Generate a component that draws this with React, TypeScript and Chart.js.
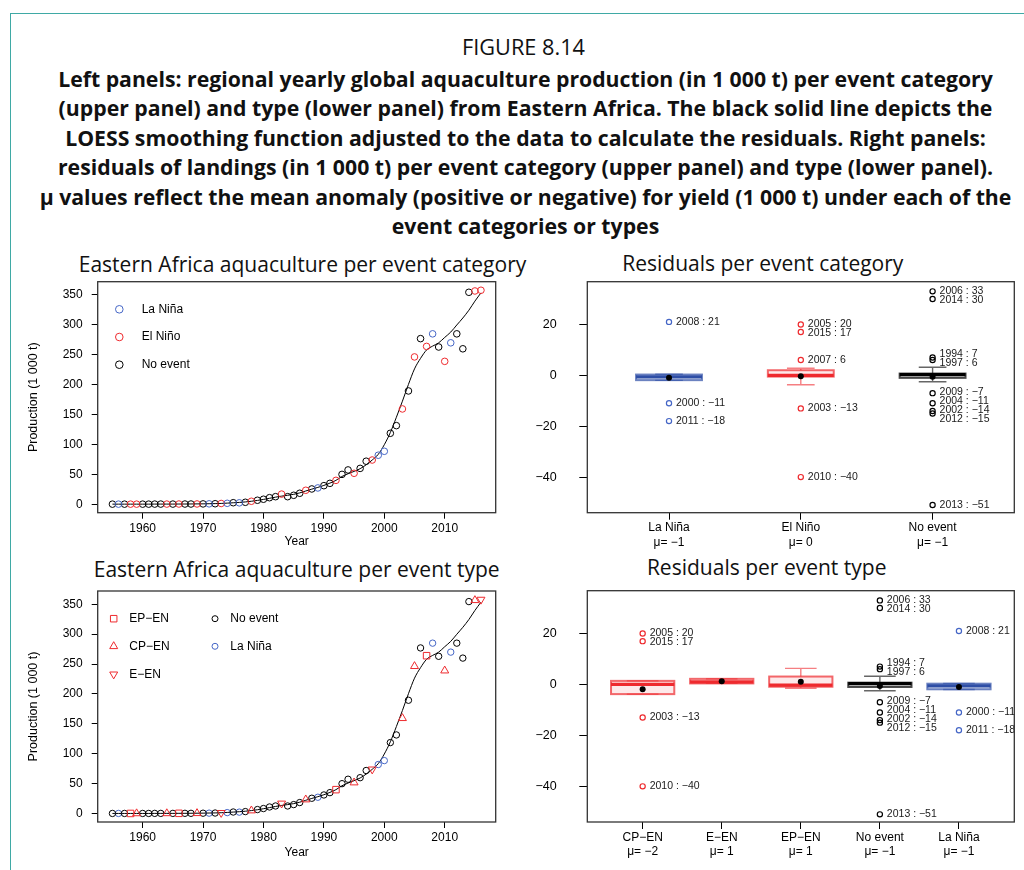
import React, { useEffect, useRef } from 'react';
import { Chart, registerables } from 'chart.js';

Chart.register(...registerables);

// ---------------- DATA ----------------
const years = [
  1955, 1956, 1957, 1958, 1959, 1960, 1961, 1962, 1963, 1964,
  1965, 1966, 1967, 1968, 1969, 1970, 1971, 1972, 1973, 1974,
  1975, 1976, 1977, 1978, 1979, 1980, 1981, 1982, 1983, 1984,
  1985, 1986, 1987, 1988, 1989, 1990, 1991, 1992, 1993, 1994,
  1995, 1996, 1997, 1998, 1999, 2000, 2001, 2002, 2003, 2004,
  2005, 2006, 2007, 2008, 2009, 2010, 2011, 2012, 2013, 2014,
  2015, 2016,
];

// Production (1 000 t)
const production = [
  0.2, 0.2, 0.2, 0.2, 0.2, 0.2, 0.2, 0.3, 0.3, 0.3,
  0.3, 0.4, 0.4, 0.4, 0.5, 0.6, 0.7, 0.9, 1.3, 1.6,
  2.6, 2.4, 3.3, 5.0, 6.7, 8.4, 11.0, 12.7, 17.0, 12.7,
  15.0, 18.4, 23.4, 25.6, 27.3, 31.1, 35.0, 40.0, 50.0, 57.4,
  51.8, 60.0, 72.0, 74.0, 82.0, 88.6, 118.7, 131.5, 159.4, 189.5,
  246.4, 277.0, 264.0, 285.0, 263.0, 239.0, 270.0, 285.0, 260.0, 354.5,
  356.7, 357.9,
];

// LOESS fitted values
const loessFit = [
  0.2, 0.2, 0.2, 0.2, 0.2, 0.2, 0.2, 0.3, 0.3, 0.3,
  0.3, 0.4, 0.4, 0.5, 0.6, 0.7, 0.9, 1.1, 1.4, 1.9,
  2.5, 3.1, 3.9, 5.0, 6.4, 8.1, 10.0, 11.9, 13.6, 15.0,
  16.6, 19.0, 22.2, 25.3, 28.2, 31.5, 35.4, 40.0, 46.5, 51.0,
  55.0, 59.5, 66.0, 74.0, 83.5, 99.6, 120.0, 145.5, 172.4, 200.5,
  226.4, 244.0, 258.0, 264.5, 270.0, 279.0, 288.0, 299.8, 311.5, 324.5,
  339.7, 353.5,
];

// N = no event, L = La Niña, E = El Niño
const eventCategory = [
  'N', 'L', 'N', 'E', 'E', 'N', 'N', 'N', 'N', 'E',
  'N', 'E', 'N', 'N', 'E', 'N', 'L', 'N', 'E', 'L',
  'N', 'L', 'N', 'E', 'N', 'N', 'N', 'N', 'E', 'N',
  'N', 'N', 'E', 'N', 'L', 'N', 'N', 'E', 'N', 'N',
  'E', 'N', 'N', 'E', 'L', 'L', 'N', 'N', 'E', 'N',
  'E', 'N', 'E', 'L', 'N', 'E', 'L', 'N', 'N', 'N',
  'E', 'E',
];

// N = no event, L = La Niña, EP = EP-EN, CP = CP-EN, E = E-EN
const eventType = [
  'N', 'L', 'N', 'EP', 'CP', 'N', 'N', 'N', 'N', 'CP',
  'N', 'EP', 'N', 'N', 'CP', 'N', 'L', 'N', 'E', 'L',
  'N', 'L', 'N', 'CP', 'N', 'N', 'N', 'N', 'E', 'N',
  'N', 'N', 'CP', 'N', 'L', 'N', 'N', 'EP', 'N', 'N',
  'CP', 'N', 'N', 'E', 'L', 'L', 'N', 'N', 'CP', 'N',
  'CP', 'N', 'EP', 'L', 'N', 'CP', 'L', 'N', 'N', 'N',
  'CP', 'E',
];

const yearTicks = [1960, 1970, 1980, 1990, 2000, 2010];
const productionTicks = [0, 50, 100, 150, 200, 250, 300, 350];
const residualTicks = [-40, -20, 0, 20];
const residualMin = -54.0;
const residualMax = 36.8;

// Residuals per event category
const catNames = ['La Niña', 'El Niño', 'No event'];
const catMu = ['μ= −1', 'μ= 0', 'μ= −1'];
const catQ1 = [-1.9, -0.5, -1.0];
const catMedian = [-0.6, 0.0, 0.3];
const catQ3 = [0.3, 2.0, 0.7];
const catWhiskLow = [-2.0, -3.7, -2.5];
const catWhiskHigh = [0.4, 2.8, 3.2];
const catMean = [-1.0, -0.4, -0.6];
const catOutYears = [
  [2008, 2000, 2011],
  [2005, 2015, 2007, 2003, 2010],
  [2006, 2014, 1994, 1997, 2009, 2004, 2002, 2012, 2013],
];
const catOutValues = [
  [21, -11, -18],
  [20, 17, 6, -13, -40],
  [33, 30, 7, 6, -7, -11, -14, -15, -51],
];

// Residuals per event type
const typeNames = ['CP−EN', 'E−EN', 'EP−EN', 'No event', 'La Niña'];
const typeMu = ['μ= −2', 'μ= 1', 'μ= 1', 'μ= −1', 'μ= −1'];
const typeQ1 = [-3.8, 0.4, -0.9, -1.0, -1.9];
const typeMedian = [0.0, 1.0, -0.3, 0.3, -0.6];
const typeQ3 = [1.4, 2.2, 3.1, 0.7, 0.3];
const typeWhiskLow = [-3.8, 0.4, -1.5, -2.5, -2.0];
const typeWhiskHigh = [1.4, 2.2, 6.3, 3.2, 0.4];
const typeMean = [-1.9, 1.3, 1.1, -0.6, -1.0];
const typeOutYears = [
  [2005, 2015, 2003, 2010],
  [],
  [],
  [2006, 2014, 1994, 1997, 2009, 2004, 2002, 2012, 2013],
  [2008, 2000, 2011],
];
const typeOutValues = [
  [20, 17, -13, -40],
  [],
  [],
  [33, 30, 7, 6, -7, -11, -14, -15, -51],
  [21, -11, -18],
];

const captionLines = [
  'Left panels: regional yearly global aquaculture production (in 1 000 t) per event category',
  '(upper panel) and type (lower panel) from Eastern Africa. The black solid line depicts the',
  'LOESS smoothing function adjusted to the data to calculate the residuals. Right panels:',
  'residuals of landings (in 1 000 t) per event category (upper panel) and type (lower panel).',
  'μ values reflect the mean anomaly (positive or negative) for yield (1 000 t) under each of the',
  'event categories or types',
];

// ---------------- STYLE ----------------
const RED = '#EE2A2E';
const BLUE = '#4566C6';
const BLUE_BOX = '#2E4EA6';
const BLACK = '#000000';
const FONT_R = "'Liberation Sans', Arial, Helvetica, sans-serif";
const FONT_T = "'Open Sans', 'Noto Sans', sans-serif";

function withAlpha(hex: string, a: number) {
  const n = parseInt(hex.slice(1), 16);
  return `rgba(${(n >> 16) & 255},${(n >> 8) & 255},${n & 255},${a})`;
}

function measure(text: string, font: string) {
  const c = document.createElement('canvas').getContext('2d') as CanvasRenderingContext2D;
  c.font = font;
  return c.measureText(text).width;
}
function fitSize(text: string, weight: number, family: string, target: number) {
  return (100 * target) / measure(text, `${weight} 100px ${family}`);
}

function drawMarker(ctx: CanvasRenderingContext2D, style: string, x: number, y: number, r: number, color: string, rot: number) {
  ctx.save();
  ctx.strokeStyle = color;
  ctx.lineWidth = 1;
  ctx.beginPath();
  if (style === 'circle') {
    ctx.arc(x, y, r, 0, Math.PI * 2);
  } else if (style === 'rect') {
    const s = r * Math.SQRT1_2;
    ctx.rect(x - s, y - s, 2 * s, 2 * s);
  } else {
    const a0 = (rot * Math.PI) / 180;
    for (let k = 0; k < 3; k++) {
      const a = a0 + (k * 2 * Math.PI) / 3;
      const px = x + Math.sin(a) * r;
      const py = y - Math.cos(a) * r;
      if (k === 0) ctx.moveTo(px, py);
      else ctx.lineTo(px, py);
    }
    ctx.closePath();
  }
  ctx.stroke();
  ctx.restore();
}

const framePlugin = {
  id: 'rframe',
  afterDraw(chart: any) {
    const { ctx, chartArea: a } = chart;
    ctx.save();
    ctx.strokeStyle = '#333';
    ctx.lineWidth = 1.3;
    ctx.strokeRect(a.left, a.top, a.right - a.left, a.bottom - a.top);
    ctx.restore();
  },
};

type Group = { code: string; label: string; color: string; style: string; rot: number; r: number };
type Geo = { cl: number; ct: number; cw: number; ch: number; l: number; t: number; r: number; b: number };
type LegendItem = { g: number; mx: number; tx: number; dy: number; r: number };

const categoryGroups: Group[] = [
  { code: 'L', label: 'La Niña', color: BLUE, style: 'circle', rot: 0, r: 3.3 },
  { code: 'E', label: 'El Niño', color: RED, style: 'circle', rot: 0, r: 3.3 },
  { code: 'N', label: 'No event', color: BLACK, style: 'circle', rot: 0, r: 3.3 },
];
const typeGroups: Group[] = [
  { code: 'EP', label: 'EP−EN', color: RED, style: 'rect', rot: 0, r: 4.6 },
  { code: 'CP', label: 'CP−EN', color: RED, style: 'triangle', rot: 0, r: 4.6 },
  { code: 'E', label: 'E−EN', color: RED, style: 'triangle', rot: 180, r: 4.6 },
  { code: 'N', label: 'No event', color: BLACK, style: 'circle', rot: 0, r: 3.2 },
  { code: 'L', label: 'La Niña', color: BLUE, style: 'circle', rot: 0, r: 3.2 },
];

function scatterConfig(groups: Group[], codes: string[], legend: LegendItem[], geo: Geo, yearTitlePad: number): any {
  const yrMin = Math.min(...years), yrMax = Math.max(...years);
  const pMin = Math.min(...production), pMax = Math.max(...production);
  const xPad = (yrMax - yrMin) * 0.04;
  const yPad = (pMax - pMin) * 0.04;
  const datasets: any[] = groups.map((g) => ({
    type: 'scatter',
    label: g.label,
    data: years
      .map((yr, i) => (codes[i] === g.code ? { x: yr, y: production[i] } : null))
      .filter((p) => p !== null),
    pointStyle: g.style,
    pointRotation: g.rot,
    pointRadius: g.r,
    borderColor: g.color,
    backgroundColor: 'rgba(0,0,0,0)',
    pointBorderColor: g.color,
    pointBackgroundColor: 'rgba(0,0,0,0)',
    borderWidth: 1,
    pointBorderWidth: 1,
  }));
  datasets.push({
    type: 'line',
    label: 'LOESS',
    data: years.map((yr, i) => ({ x: yr, y: loessFit[i] })),
    borderColor: '#000',
    borderWidth: 1,
    pointRadius: 0,
    fill: false,
    cubicInterpolationMode: 'monotone',
  });
  const legendPlugin = {
    id: 'rlegend',
    afterDatasetsDraw(chart: any) {
      const { ctx, chartArea: a } = chart;
      ctx.save();
      ctx.font = `12px ${FONT_R}`;
      ctx.fillStyle = '#000';
      ctx.textBaseline = 'middle';
      ctx.textAlign = 'left';
      legend.forEach((it) => {
        const g = groups[it.g];
        const y = a.top + it.dy;
        drawMarker(ctx, g.style, a.left + it.mx, y, it.r, g.color, g.rot);
        ctx.fillText(g.label, a.left + it.tx, y);
      });
      ctx.restore();
    },
  };
  return {
    type: 'scatter',
    data: { datasets },
    options: {
      responsive: false,
      animation: false,
      devicePixelRatio: 1,
      events: [],
      layout: { padding: { left: 0, top: geo.t - geo.ct, right: geo.cl + geo.cw - geo.r, bottom: 0 } },
      plugins: { legend: { display: false }, tooltip: { enabled: false }, title: { display: false } },
      scales: {
        x: {
          type: 'linear',
          min: yrMin - xPad,
          max: yrMax + xPad,
          afterBuildTicks: (s: any) => {
            s.ticks = yearTicks.map((v) => ({ value: v }));
          },
          afterFit: (s: any) => {
            s.height = geo.ct + geo.ch - geo.b;
          },
          border: { display: false },
          grid: { drawOnChartArea: false, drawTicks: true, tickLength: 6, color: '#000', lineWidth: 1 },
          ticks: {
            autoSkip: false,
            maxRotation: 0,
            padding: 2.4,
            color: '#000',
            font: { family: FONT_R, size: 12 },
            callback: (v: any) => String(v),
          },
          title: {
            display: true,
            text: 'Year',
            color: '#000',
            font: { family: FONT_R, size: 12 },
            padding: { top: 0, bottom: yearTitlePad },
          },
        },
        y: {
          type: 'linear',
          min: pMin - yPad,
          max: pMax + yPad,
          afterBuildTicks: (s: any) => {
            s.ticks = productionTicks.map((v) => ({ value: v }));
          },
          afterFit: (s: any) => {
            s.width = geo.l - geo.cl;
          },
          border: { display: false },
          grid: { drawOnChartArea: false, drawTicks: true, tickLength: 6, color: '#000', lineWidth: 1 },
          ticks: {
            autoSkip: false,
            padding: 9,
            color: '#000',
            font: { family: FONT_R, size: 12 },
            callback: (v: any) => String(v),
          },
          title: {
            display: true,
            text: 'Production (1 000 t)',
            color: '#000',
            font: { family: FONT_R, size: 12.5 },
            padding: { top: 26.5, bottom: 0 },
          },
        },
      },
    },
    plugins: [framePlugin, legendPlugin],
  };
}

type BoxSet = {
  names: string[]; mu: string[]; q1: number[]; med: number[]; q3: number[];
  wLo: number[]; wHi: number[]; mean: number[]; outYears: number[][]; outValues: number[][];
  colors: string[]; boxColors: string[]; boxWidth: number; capRatio: number;
};

function fmtRes(v: number) {
  return v < 0 ? `−${Math.abs(v)}` : String(v);
}

function residualConfig(bs: BoxSet, geo: Geo): any {
  const n = bs.names.length;
  const datasets: any[] = [];
  bs.outYears.forEach((ys, i) => {
    datasets.push({
      type: 'scatter',
      data: ys.map((_, j) => ({ x: i + 1, y: bs.outValues[i][j] })),
      pointStyle: 'circle',
      pointRadius: 2.6,
      borderColor: bs.colors[i],
      pointBorderColor: bs.colors[i],
      backgroundColor: 'rgba(0,0,0,0)',
      pointBackgroundColor: 'rgba(0,0,0,0)',
      borderWidth: 1.2,
      pointBorderWidth: 1.2,
    });
  });
  datasets.unshift({
    type: 'scatter',
    data: bs.mean.map((m, i) => ({ x: i + 1, y: m })),
    pointStyle: 'circle',
    pointRadius: 3,
    borderColor: '#000',
    backgroundColor: '#000',
    pointBorderColor: '#000',
    pointBackgroundColor: '#000',
    borderWidth: 0,
  });

  const boxPlugin = {
    id: 'rboxes',
    beforeDatasetsDraw(chart: any) {
      const { ctx } = chart;
      const xs = chart.scales.x, ys = chart.scales.y;
      ctx.save();
      for (let i = 0; i < n; i++) {
        const col = bs.boxColors[i];
        const cx = xs.getPixelForValue(i + 1);
        const hw = Math.abs(xs.getPixelForValue(i + 1 + bs.boxWidth / 2) - cx);
        const cap = hw * bs.capRatio;
        const yq1 = ys.getPixelForValue(bs.q1[i]);
        const yq3 = ys.getPixelForValue(bs.q3[i]);
        const ymed = ys.getPixelForValue(bs.med[i]);
        const ylo = ys.getPixelForValue(bs.wLo[i]);
        const yhi = ys.getPixelForValue(bs.wHi[i]);
        ctx.strokeStyle = withAlpha(col, 0.6);
        ctx.lineWidth = 1.4;
        ctx.beginPath();
        ctx.moveTo(cx, yq3); ctx.lineTo(cx, yhi);
        ctx.moveTo(cx, yq1); ctx.lineTo(cx, ylo);
        ctx.moveTo(cx - cap, yhi); ctx.lineTo(cx + cap, yhi);
        ctx.moveTo(cx - cap, ylo); ctx.lineTo(cx + cap, ylo);
        ctx.stroke();
        ctx.fillStyle = withAlpha(col, 0.1);
        ctx.fillRect(cx - hw, yq3, 2 * hw, yq1 - yq3);
        ctx.lineWidth = 2;
        ctx.strokeStyle = withAlpha(col, 0.7);
        ctx.strokeRect(cx - hw, yq3, 2 * hw, yq1 - yq3);
        ctx.lineWidth = 3.2;
        ctx.strokeStyle = col;
        ctx.beginPath();
        ctx.moveTo(cx - hw, ymed); ctx.lineTo(cx + hw, ymed);
        ctx.stroke();
      }
      ctx.restore();
    },
    afterDatasetsDraw(chart: any) {
      const { ctx } = chart;
      const xs = chart.scales.x, ys = chart.scales.y;
      ctx.save();
      ctx.font = `10.5px ${FONT_R}`;
      ctx.fillStyle = '#1a1a1a';
      ctx.textAlign = 'left';
      ctx.textBaseline = 'middle';
      for (let i = 0; i < n; i++) {
        const cx = xs.getPixelForValue(i + 1);
        const items = bs.outYears[i].map((yr, j) => ({
          text: `${yr} : ${fmtRes(bs.outValues[i][j])}`,
          y: ys.getPixelForValue(bs.outValues[i][j]),
        }));
        items.sort((a, b) => a.y - b.y);
        const gap = 9;
        for (let it = 0; it < 80; it++) {
          for (let k = 0; k < items.length - 1; k++) {
            const d = items[k + 1].y - items[k].y;
            if (d < gap) {
              const push = (gap - d) / 2;
              items[k].y -= push;
              items[k + 1].y += push;
            }
          }
        }
        items.forEach((it) => ctx.fillText(it.text, cx + 7, it.y));
      }
      ctx.restore();
    },
  };

  return {
    type: 'scatter',
    data: { datasets },
    options: {
      responsive: false,
      animation: false,
      devicePixelRatio: 1,
      events: [],
      layout: { padding: { left: 0, top: geo.t - geo.ct, right: geo.cl + geo.cw - geo.r, bottom: 0 } },
      plugins: { legend: { display: false }, tooltip: { enabled: false }, title: { display: false } },
      scales: {
        x: {
          type: 'linear',
          min: 0.5 - 0.04 * n,
          max: n + 0.5 + 0.04 * n,
          afterBuildTicks: (s: any) => {
            s.ticks = bs.names.map((_, i) => ({ value: i + 1 }));
          },
          afterFit: (s: any) => {
            s.height = geo.ct + geo.ch - geo.b;
          },
          border: { display: false },
          grid: { drawOnChartArea: false, drawTicks: true, tickLength: 7, color: '#000', lineWidth: 1 },
          ticks: {
            autoSkip: false,
            maxRotation: 0,
            padding: 1,
            color: '#000',
            font: { family: FONT_R, size: 12 },
            callback: (v: any) => {
              const i = Math.round(Number(v)) - 1;
              return [bs.names[i], bs.mu[i]];
            },
          },
        },
        y: {
          type: 'linear',
          min: residualMin,
          max: residualMax,
          afterBuildTicks: (s: any) => {
            s.ticks = residualTicks.map((v) => ({ value: v }));
          },
          afterFit: (s: any) => {
            s.width = geo.l - geo.cl;
          },
          border: { display: false },
          grid: { drawOnChartArea: false, drawTicks: true, tickLength: 8, color: '#000', lineWidth: 1 },
          ticks: {
            autoSkip: false,
            padding: 22.6,
            color: '#000',
            font: { family: FONT_R, size: 12.5 },
            callback: (v: any) => fmtRes(Number(v)),
          },
        },
      },
    },
    plugins: [framePlugin, boxPlugin],
  };
}

// ---------------- LAYOUT ----------------
const geoTL: Geo = { cl: 0, ct: 240, cw: 530, ch: 330, l: 97.7, t: 281.7, r: 495.7, b: 512.7 };
const geoBL: Geo = { cl: 0, ct: 550, cw: 530, ch: 320, l: 97.7, t: 591, r: 495.7, b: 822 };
const geoTR: Geo = { cl: 530, ct: 240, cw: 494, ch: 330, l: 587.3, t: 281.7, r: 1014.3, b: 512.7 };
const geoBR: Geo = { cl: 530, ct: 550, cw: 494, ch: 320, l: 587.3, t: 590.7, r: 1014.3, b: 822 };

const legendTL: LegendItem[] = [
  { g: 0, mx: 21.6, tx: 44, dy: 27.6, r: 3.8 },
  { g: 1, mx: 21.6, tx: 44, dy: 55.3, r: 3.8 },
  { g: 2, mx: 21.6, tx: 44, dy: 83.0, r: 3.8 },
];
const legendBL: LegendItem[] = [
  { g: 0, mx: 16, tx: 31.6, dy: 27.7, r: 4.6 },
  { g: 1, mx: 16, tx: 31.6, dy: 55.3, r: 4.6 },
  { g: 2, mx: 16, tx: 31.6, dy: 83.3, r: 4.6 },
  { g: 3, mx: 117.3, tx: 132.6, dy: 27.7, r: 3.0 },
  { g: 4, mx: 117.3, tx: 132.6, dy: 55.3, r: 3.0 },
];

function ChartBox({ geo, make }: { geo: Geo; make: () => any }) {
  const ref = useRef<HTMLCanvasElement>(null);
  useEffect(() => {
    const chart = new Chart(ref.current as HTMLCanvasElement, make());
    return () => chart.destroy();
  }, []);
  return (
    <canvas
      ref={ref}
      width={geo.cw}
      height={geo.ch}
      style={{ position: 'absolute', left: geo.cl, top: geo.ct, width: geo.cw, height: geo.ch }}
    />
  );
}

function CenterText({ x, y, size, weight, text, family }: { x: number; y: number; size: number; weight: number; text: string; family: string }) {
  return (
    <div
      style={{
        position: 'absolute',
        left: x,
        top: y,
        transform: 'translate(-50%, -50%)',
        whiteSpace: 'nowrap',
        fontFamily: family,
        fontSize: size,
        fontWeight: weight,
        lineHeight: 1,
        color: '#111',
      }}
    >
      {text}
    </div>
  );
}

export default function App() {
  const capSize = fitSize(captionLines[0], 700, FONT_T, 935);
  const figSize = fitSize('FIGURE 8.14', 400, FONT_T, 123);
  const titleSize = fitSize('Eastern Africa aquaculture per event category', 400, FONT_T, 448);

  const catBoxes: BoxSet = {
    names: catNames, mu: catMu, q1: catQ1, med: catMedian, q3: catQ3,
    wLo: catWhiskLow, wHi: catWhiskHigh, mean: catMean,
    outYears: catOutYears, outValues: catOutValues,
    colors: [BLUE, RED, BLACK], boxColors: [BLUE_BOX, RED, BLACK],
    boxWidth: 0.5, capRatio: 0.42,
  };
  const typeBoxes: BoxSet = {
    names: typeNames, mu: typeMu, q1: typeQ1, med: typeMedian, q3: typeQ3,
    wLo: typeWhiskLow, wHi: typeWhiskHigh, mean: typeMean,
    outYears: typeOutYears, outValues: typeOutValues,
    colors: [RED, RED, RED, BLACK, BLUE], boxColors: [RED, RED, RED, BLACK, BLUE_BOX],
    boxWidth: 0.8, capRatio: 0.5,
  };

  return (
    <div style={{ position: 'absolute', left: 0, top: 0, width: 1024, height: 870, overflow: 'hidden', background: '#fff' }}>
      <div
        style={{
          position: 'absolute', left: 10, top: 13, width: 1100, height: 900,
          borderLeft: '1.5px solid #3FA9A5', borderTop: '1.5px solid #3FA9A5',
        }}
      />
      <CenterText x={523.5} y={47} size={figSize} weight={400} text="FIGURE 8.14" family={FONT_T} />
      {captionLines.map((t, i) => (
        <CenterText key={i} x={525.5} y={79 + i * 29.4} size={capSize} weight={700} text={t} family={FONT_T} />
      ))}
      <CenterText x={302.5} y={265} size={titleSize} weight={400} text="Eastern Africa aquaculture per event category" family={FONT_T} />
      <CenterText x={762.8} y={263.5} size={titleSize} weight={400} text="Residuals per event category" family={FONT_T} />
      <CenterText x={296.7} y={570} size={titleSize} weight={400} text="Eastern Africa aquaculture per event type" family={FONT_T} />
      <CenterText x={766.7} y={568} size={titleSize} weight={400} text="Residuals per event type" family={FONT_T} />

      <ChartBox geo={geoTL} make={() => scatterConfig(categoryGroups, eventCategory, legendTL, geoTL, 21.1)} />
      <ChartBox geo={geoBL} make={() => scatterConfig(typeGroups, eventType, legendBL, geoBL, 10.1)} />
      <ChartBox geo={geoTR} make={() => residualConfig(catBoxes, geoTR)} />
      <ChartBox geo={geoBR} make={() => residualConfig(typeBoxes, geoBR)} />
    </div>
  );
}
